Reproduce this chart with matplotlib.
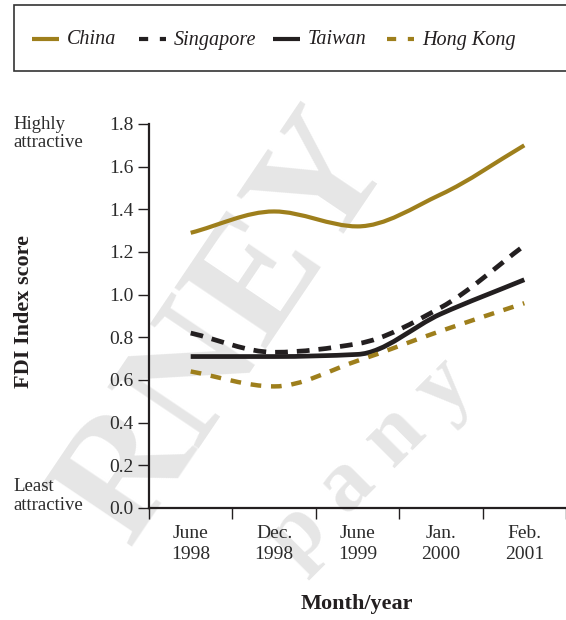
import numpy as np
import matplotlib
matplotlib.use("Agg")
import matplotlib.pyplot as plt
from matplotlib.path import Path
from matplotlib.patches import PathPatch, Rectangle
from matplotlib.lines import Line2D

# --- data -------------------------------------------------------------
periods = ["June\n1998", "Dec.\n1998", "June\n1999", "Jan.\n2000", "Feb.\n2001"]
china = [1.29, 1.39, 1.32, 1.47, 1.70]
singapore = [0.82, 0.73, 0.77, 0.94, 1.23]
taiwan = [0.71, 0.71, 0.72, 0.91, 1.07]
hong_kong = [0.64, 0.57, 0.69, 0.83, 0.96]
y_ticks = [0.0, 0.2, 0.4, 0.6, 0.8, 1.0, 1.2, 1.4, 1.6, 1.8]

GOLD = "#9e7f1c"
BLACK = "#231f20"
TEXT = "#2b2b2b"
WATERMARK = "#e6e6e6"
SERIF = "Liberation Serif"

W, H = 566, 620
fig = plt.figure(figsize=(W / 100, H / 100), dpi=100)
fig.patch.set_facecolor("white")


def fx(px):
    return px / W


def fy(py):
    return 1 - py / H


# faint diagonal watermark behind everything
fig.text(fx(228), fy(330), "RNEY", rotation=56, fontsize=120, fontweight="bold",
         family=SERIF, color=WATERMARK, ha="center", va="center", zorder=0)
fig.text(fx(370), fy(462), "p a n y", rotation=45, fontsize=64, fontweight="bold",
         family=SERIF, color=WATERMARK, ha="center", va="center", zorder=0)

ax = fig.add_axes([fx(149), fy(508), fx(566) - fx(149), fy(124) - fy(508)])
ax.set_facecolor("none")
ax.set_zorder(2)


def smooth_path(xs, ys):
    """Monotone (Fritsch-Carlson) cubic Bezier path through the points."""
    xs = np.asarray(xs, float)
    ys = np.asarray(ys, float)
    h = np.diff(xs)
    d = np.diff(ys) / h
    m = np.zeros_like(ys)
    m[0], m[-1] = d[0], d[-1]
    for i in range(1, len(ys) - 1):
        if d[i - 1] * d[i] <= 0:
            m[i] = 0.0
        else:
            m[i] = 2.0 / (1.0 / d[i - 1] + 1.0 / d[i])
    verts = [(xs[0], ys[0])]
    codes = [Path.MOVETO]
    for i in range(len(xs) - 1):
        verts += [(xs[i] + h[i] / 3, ys[i] + m[i] * h[i] / 3),
                  (xs[i + 1] - h[i] / 3, ys[i + 1] - m[i + 1] * h[i] / 3),
                  (xs[i + 1], ys[i + 1])]
        codes += [Path.CURVE4] * 3
    return Path(verts, codes)


x = np.arange(len(periods))
series = [
    (china, GOLD, "-", 3.0),
    (singapore, BLACK, (0, (2.7, 1.9)), 3.4),
    (taiwan, BLACK, "-", 3.4),
    (hong_kong, GOLD, (0, (2.4, 2.2)), 3.2),
]
for vals, col, ls, lw in series:
    patch = PathPatch(smooth_path(x, vals), facecolor="none", edgecolor=col,
                      linewidth=lw, linestyle=ls, capstyle="butt", zorder=3)
    ax.add_patch(patch)

ax.set_xlim(-0.5, len(periods) - 0.5)
ax.set_ylim(0, 1.8)

for side in ("top", "right"):
    ax.spines[side].set_visible(False)
for side in ("left", "bottom"):
    ax.spines[side].set_linewidth(1.6)
    ax.spines[side].set_color(BLACK)

ax.set_yticks(y_ticks)
ax.set_yticklabels([f"{v:.1f}" for v in y_ticks], family=SERIF, fontsize=14, color=TEXT)
ax.tick_params(axis="y", length=8, width=1.0, pad=3, color=BLACK)

ax.set_xticks(np.arange(-0.5, len(periods), 1.0))
ax.set_xticklabels([])
ax.set_xticks(x, minor=True)
ax.set_xticklabels(periods, minor=True, family=SERIF, fontsize=14, color=TEXT,
                   linespacing=1.35)
ax.tick_params(axis="x", which="major", length=8, width=1.0, color=BLACK)
ax.tick_params(axis="x", which="minor", length=0, pad=12)

fig.text(fx(24), fy(311), "FDI Index score", rotation=90, family=SERIF, fontsize=16,
         fontweight="bold", color=BLACK, ha="center", va="center")
fig.text(fx(357), fy(604), "Month/year", family=SERIF, fontsize=16, fontweight="bold",
         color=BLACK, ha="center", va="center")

fig.text(fx(13), fy(129), "Highly", family=SERIF, fontsize=13.5, color=TEXT,
         ha="left", va="baseline")
fig.text(fx(13), fy(147), "attractive", family=SERIF, fontsize=13.5, color=TEXT,
         ha="left", va="baseline")
fig.text(fx(13), fy(491), "Least", family=SERIF, fontsize=13.5, color=TEXT,
         ha="left", va="baseline")
fig.text(fx(13), fy(510), "attractive", family=SERIF, fontsize=13.5, color=TEXT,
         ha="left", va="baseline")

# legend frame and entries
fig.add_artist(Rectangle((fx(14), fy(71)), fx(600) - fx(14), fy(5) - fy(71),
                         transform=fig.transFigure, facecolor="white",
                         edgecolor="#333333", linewidth=1.2, zorder=1))
legend_items = [
    ("China", GOLD, "-", 32),
    ("Singapore", BLACK, (0, (2.2, 2.8)), 139),
    ("Taiwan", BLACK, "-", 273),
    ("Hong Kong", GOLD, (0, (2.2, 2.8)), 387),
]
for label, col, ls, x0 in legend_items:
    fig.add_artist(Line2D([fx(x0), fx(x0 + 27)], [fy(39), fy(39)], transform=fig.transFigure,
                          color=col, linestyle=ls, linewidth=3.0,
                          solid_capstyle="butt", dash_capstyle="butt", zorder=2))
    fig.text(fx(x0 + 35), fy(40), label, family=SERIF, fontsize=14.5, style="italic",
             color=BLACK, ha="left", va="center", zorder=2)

fig.savefig("out.png", dpi=100, facecolor="white")
